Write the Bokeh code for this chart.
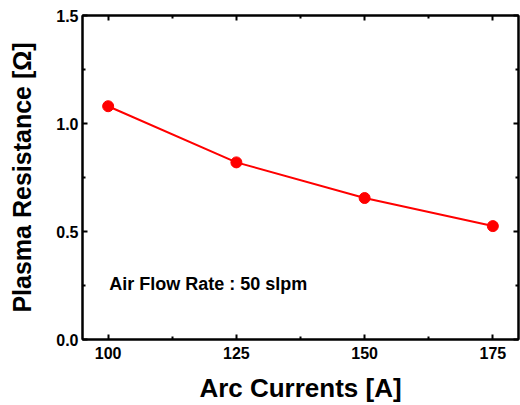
from bokeh.plotting import figure
from bokeh.models import LinearAxis, FixedTicker, PrintfTickFormatter, Label, Range1d
from bokeh.embed import file_html
from bokeh.resources import INLINE

# data
currents = [100, 125, 150, 175]
resistance = [1.08, 0.82, 0.655, 0.525]
x_ticks = [100, 125, 150, 175]
x_minor = [112.5, 137.5, 162.5]
y_ticks = [0.0, 0.5, 1.0, 1.5]
y_minor = [0.25, 0.75, 1.25]
note = "Air Flow Rate : 50 slpm"

FONT = "Liberation Sans"

p = figure(width=520, height=405, output_backend="svg", toolbar_location=None,
           x_range=Range1d(95, 180), y_range=Range1d(0, 1.5),
           min_border_left=82, min_border_right=2, min_border_top=15, min_border_bottom=66)
p.xgrid.visible = False
p.ygrid.visible = False
p.outline_line_color = "black"
p.outline_line_width = 2
p.background_fill_color = "white"
p.border_fill_color = "white"

p.line(currents, resistance, line_color="#ff0000", line_width=2)
p.scatter(currents, resistance, size=11, fill_color="#ff0000", line_color="#ff0000")

def style(ax, ticks, minor, show_labels):
    ax.ticker = FixedTicker(ticks=ticks, minor_ticks=minor)
    ax.axis_line_color = "black"
    ax.axis_line_width = 2
    ax.major_tick_in = 5
    ax.major_tick_out = 0
    ax.minor_tick_in = 3
    ax.minor_tick_out = 0
    ax.major_tick_line_width = 2
    ax.minor_tick_line_width = 2
    ax.major_tick_line_color = "black"
    ax.minor_tick_line_color = "black"
    if show_labels:
        ax.major_label_text_font = FONT
        ax.major_label_text_font_style = "bold"
        ax.major_label_text_font_size = "16px"
        ax.major_label_text_color = "black"
    else:
        ax.major_label_text_font_size = "0px"
        ax.major_label_text_alpha = 0
        ax.major_label_standoff = 0

xa = p.xaxis[0]
style(xa, x_ticks, x_minor, True)
xa.major_label_standoff = 7
xa.axis_label = "Arc Currents [A]"
xa.axis_label_text_font = FONT
xa.axis_label_text_font_style = "bold"
xa.axis_label_text_font_size = "26px"
xa.axis_label_text_color = "black"
xa.axis_label_standoff = 11

ya = p.yaxis[0]
style(ya, y_ticks, y_minor, True)
ya.formatter = PrintfTickFormatter(format="%.1f")
ya.major_label_standoff = 4
ya.axis_label = "Plasma Resistance [\u03a9]"
ya.axis_label_text_font = FONT
ya.axis_label_text_font_style = "bold"
ya.axis_label_text_font_size = "25px"
ya.axis_label_text_color = "black"
ya.axis_label_standoff = 17

top = LinearAxis()
style(top, x_ticks, x_minor, False)
p.add_layout(top, "above")
right = LinearAxis()
style(right, y_ticks, y_minor, False)
p.add_layout(right, "right")

p.add_layout(Label(x=100, y=0.255, text=note, text_align="left", text_baseline="middle",
                   x_offset=1, text_font=FONT, text_font_style="bold",
                   text_font_size="18px", text_color="black"))

open("out.html", "w").write(file_html(p, INLINE))
